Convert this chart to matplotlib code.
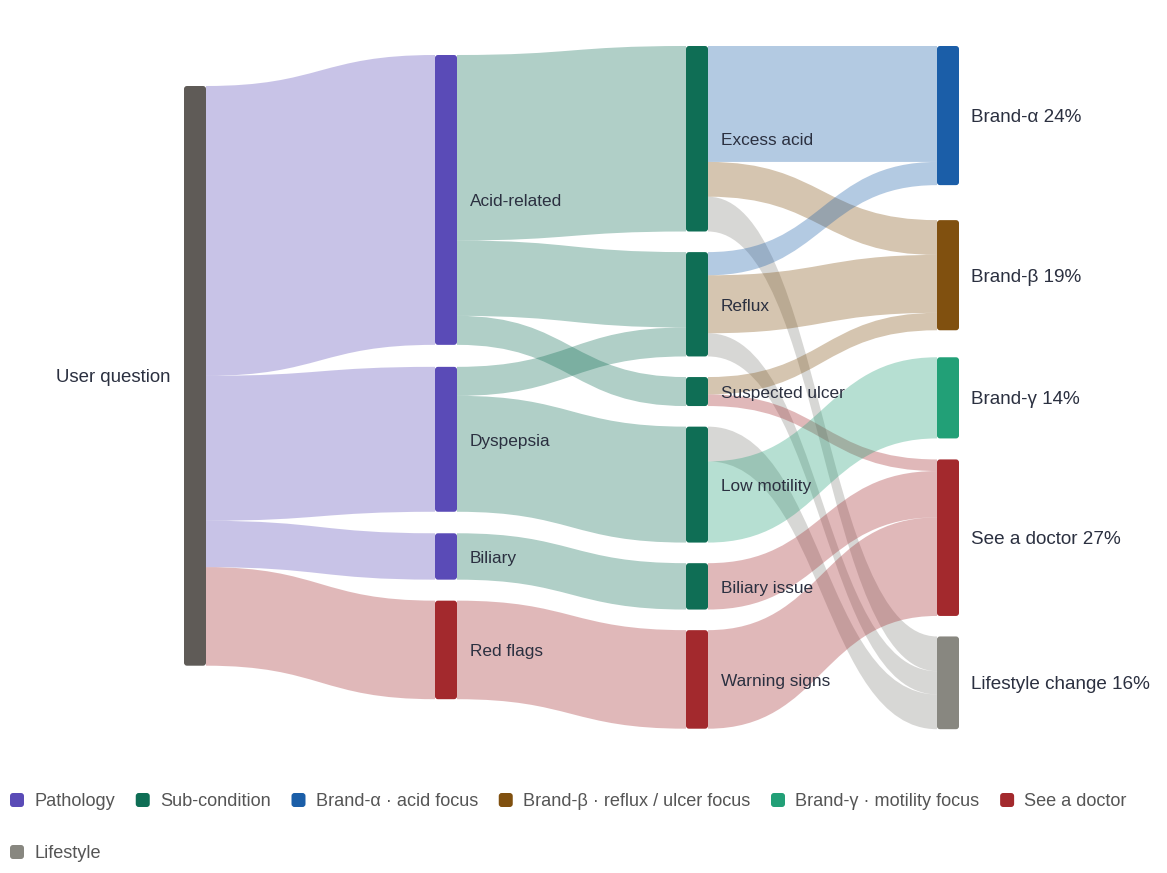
import matplotlib
matplotlib.use("Agg")
import matplotlib.pyplot as plt  # noqa: E402
from matplotlib.path import Path  # noqa: E402
from matplotlib.patches import PathPatch, FancyBboxPatch  # noqa: E402

plt.rcParams["font.family"] = ["Liberation Sans", "DejaVu Sans"]

# nodes, column index, colour group
NODES = ["User question",
         "Acid-related", "Dyspepsia", "Biliary", "Red flags",
         "Excess acid", "Reflux", "Suspected ulcer", "Low motility", "Biliary issue", "Warning signs",
         "Brand-α", "Brand-β", "Brand-γ", "See a doctor", "Lifestyle change"]
COLUMN = [0, 1, 1, 1, 1, 2, 2, 2, 2, 2, 2, 3, 3, 3, 3, 3]
GROUP = ["root", "path", "path", "path", "doc",
         "sub", "sub", "sub", "sub", "sub", "doc",
         "alpha", "beta", "gamma", "doc", "life"]

# links (source, target, value)
SOURCES = ["User question", "User question", "User question", "User question",
           "Acid-related", "Acid-related", "Acid-related", "Dyspepsia", "Dyspepsia",
           "Biliary", "Red flags",
           "Excess acid", "Excess acid", "Excess acid",
           "Reflux", "Reflux", "Reflux",
           "Suspected ulcer", "Suspected ulcer",
           "Low motility", "Low motility",
           "Biliary issue", "Warning signs"]
TARGETS = ["Acid-related", "Dyspepsia", "Biliary", "Red flags",
           "Excess acid", "Reflux", "Suspected ulcer", "Reflux", "Low motility",
           "Biliary issue", "Warning signs",
           "Brand-α", "Brand-β", "Lifestyle change",
           "Brand-α", "Brand-β", "Lifestyle change",
           "Brand-β", "See a doctor",
           "Lifestyle change", "Brand-γ",
           "See a doctor", "See a doctor"]
VALUES = [50, 25, 8, 17,
          32, 13, 5, 5, 20,
          8, 17,
          20, 6, 6,
          4, 10, 4,
          3, 2,
          6, 14,
          8, 17]

LEGEND = [("Pathology", "path"), ("Sub-condition", "sub"),
          ("Brand-α · acid focus", "alpha"), ("Brand-β · reflux / ulcer focus", "beta"),
          ("Brand-γ · motility focus", "gamma"), ("See a doctor", "doc"),
          ("Lifestyle", "life")]

COLORS = {"root": "#5f5b57", "path": "#5a4bb7", "sub": "#0f6e55",
          "alpha": "#1b5ea8", "beta": "#80500f", "gamma": "#22a077",
          "doc": "#a3292d", "life": "#888780"}
TEXT = "#2b3040"

# layout (pixels)
W, H = 1167, 873
COL_X0, COL_STEP, NODE_W = 184, 251, 22
COL_TOP = [86, 55, 46, 46]
COL_GAPS = [[], [22, 21.5, 21], [20.6] * 5, [35, 27, 21, 20.5]]
SCALE = 5.797  # px per unit
LINK_ALPHA = 0.33
DY = 2  # label baseline nudge

idx = {n: i for i, n in enumerate(NODES)}
vin = [0] * len(NODES)
vout = [0] * len(NODES)
for s, t, v in zip(SOURCES, TARGETS, VALUES):
    vout[idx[s]] += v
    vin[idx[t]] += v
val = [max(a, b) for a, b in zip(vin, vout)]
total = val[0]

# node boxes
top = [0.0] * len(NODES)
for c in range(4):
    y = COL_TOP[c]
    members = [i for i in range(len(NODES)) if COLUMN[i] == c]
    for k, i in enumerate(members):
        top[i] = y
        y += val[i] * SCALE
        if k < len(COL_GAPS[c]):
            y += COL_GAPS[c][k]
xs = [COL_X0 + COL_STEP * COLUMN[i] for i in range(len(NODES))]

fig = plt.figure(figsize=(W / 100, H / 100), dpi=100)
ax = fig.add_axes([0, 0, 1, 1])
ax.set_xlim(0, W)
ax.set_ylim(H, 0)
ax.axis("off")

# links
src_off = list(top)
tgt_off = list(top)
for s, t, v in zip(SOURCES, TARGETS, VALUES):
    si, ti = idx[s], idx[t]
    h = v * SCALE
    x0, x1 = xs[si] + NODE_W, xs[ti]
    y0, y1 = src_off[si], tgt_off[ti]
    src_off[si] += h
    tgt_off[ti] += h
    xm = (x0 + x1) / 2
    verts = [(x0, y0), (xm, y0), (xm, y1), (x1, y1),
             (x1, y1 + h), (xm, y1 + h), (xm, y0 + h), (x0, y0 + h), (x0, y0)]
    codes = [Path.MOVETO, Path.CURVE4, Path.CURVE4, Path.CURVE4,
             Path.LINETO, Path.CURVE4, Path.CURVE4, Path.CURVE4, Path.CLOSEPOLY]
    ax.add_patch(PathPatch(Path(verts, codes), facecolor=COLORS[GROUP[ti]],
                           alpha=LINK_ALPHA, lw=0, zorder=1))

# nodes + labels
for i, name in enumerate(NODES):
    h = val[i] * SCALE
    ax.add_patch(FancyBboxPatch((xs[i], top[i]), NODE_W, h,
                                boxstyle="round,pad=0,rounding_size=3",
                                facecolor=COLORS[GROUP[i]], lw=0, zorder=2))
    yc = top[i] + h / 2 + DY
    c = COLUMN[i]
    if c == 0:
        ax.text(xs[i] - 13, yc, name, ha="right", va="center", fontsize=13.4, color=TEXT, zorder=3)
    elif c == 3:
        ax.text(xs[i] + NODE_W + 12, yc, f"{name} {val[i] / total * 100:.0f}%",
                ha="left", va="center", fontsize=13.6, color=TEXT, zorder=3)
    else:
        ax.text(xs[i] + NODE_W + 13, yc, name, ha="left", va="center", fontsize=12.4, color=TEXT, zorder=3)

# legend, wrapped
renderer = fig.canvas.get_renderer()
lx, ly = 10, 800
for label, g in LEGEND:
    t = ax.text(lx + 24, ly + DY, label, ha="left", va="center", fontsize=13.1, color="#555555")
    wbox = t.get_window_extent(renderer).width
    if lx + 24 + wbox > W - 10:
        lx, ly = 10, ly + 52
        t.set_position((lx + 24, ly + DY))
    ax.add_patch(FancyBboxPatch((lx, ly - 7), 14, 14, boxstyle="round,pad=0,rounding_size=3",
                                facecolor=COLORS[g], lw=0))
    lx += 24 + wbox + 21

fig.savefig("out.png", dpi=100)
